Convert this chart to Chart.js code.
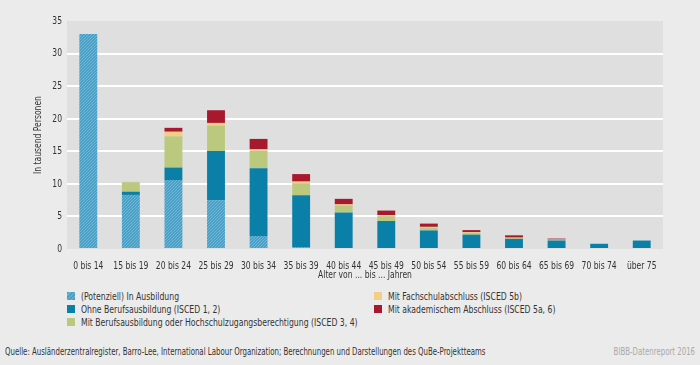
<!DOCTYPE html>
<html>
<head>
<meta charset="utf-8">
<script src="https://cdn.jsdelivr.net/npm/chart.js@4.4.1/dist/chart.umd.min.js"></script>
<style>
    body {
        margin: 0;
        width: 700px;
        height: 365px;
        overflow: hidden;
        background: #ebebeb;
        font-family: 'DejaVu Sans Condensed', sans-serif;
        color: #333;
        position: relative;
    }
    #wrap { position: absolute; left: 0; top: 0; width: 700px; height: 285px; }
    .legend-item {
        position: absolute;
        font-size: 11px;
        line-height: 13px;
        white-space: nowrap;
    }
    .legend-item .box {
        position: absolute;
        left: -14px;
        top: 2px;
        width: 8px;
        height: 8px;
    }
    /* the reference font is a narrow one, so squeeze DejaVu a bit */
    .narrow { display: inline-block; transform: scaleX(0.78); transform-origin: left center; }
    .footer { position: absolute; top: 344px; font-size: 10.5px; line-height: 14px; white-space: nowrap; }
    .footer span { display: inline-block; transform: scaleX(0.74); transform-origin: left center; }
    .footer.right span { transform-origin: right center; }
</style>
</head>
<body>
<div id="wrap"><canvas id="barChart" width="700" height="285"></canvas></div>
<div id="legend"></div>
<div class="footer" style="left:5px;"><span>Quelle: Ausländerzentralregister, Barro-Lee, International Labour Organization; Berechnungen und Darstellungen des QuBe-Projektteams</span></div>
<div class="footer right" style="right:5px; color:#a9a9a9;"><span>BIBB-Datenreport 2016</span></div>

<script>
// Altersgruppen
const categories = ['0 bis 14', '15 bis 19', '20 bis 24', '25 bis 29', '30 bis 34', '35 bis 39', '40 bis 44',
    '45 bis 49', '50 bis 54', '55 bis 59', '60 bis 64', '65 bis 69', '70 bis 74', 'über 75'];

// Werte in tausend Personen
const inAusbildung = [33, 8.3, 10.5, 7.5, 2.0, 0.3, 0, 0, 0, 0, 0, 0, 0, 0];
const ohneBerufsausbildung = [0, 0.5, 2.0, 7.55, 10.4, 7.95, 5.6, 4.3, 2.85, 2.2, 1.55, 1.3, 0.8, 1.3];
const mitBerufsausbildung = [0, 1.45, 4.8, 3.9, 2.7, 1.85, 1.1, 0.75, 0.45, 0.3, 0.15, 0.1, 0, 0];
const mitFachschulabschluss = [0, 0.1, 0.7, 0.4, 0.2, 0.25, 0.15, 0.15, 0.1, 0.1, 0.05, 0.05, 0, 0];
const mitAkademischemAbschluss = [0, 0, 0.6, 1.95, 1.6, 1.15, 0.85, 0.7, 0.5, 0.3, 0.35, 0.15, 0, 0];

const yTicks = [0, 5, 10, 15, 20, 25, 30, 35];

const FONT = "'DejaVu Sans Condensed', sans-serif";

// hatched fill for "(Potenziell) In Ausbildung"
function makeHatch() {
    const c = document.createElement('canvas');
    c.width = 3;
    c.height = 3;
    const g = c.getContext('2d');
    g.fillStyle = '#4aa1c8';
    g.fillRect(0, 0, 3, 3);
    g.fillStyle = '#72b5d5';
    g.fillRect(0, 2, 1, 1);
    g.fillRect(1, 1, 1, 1);
    g.fillRect(2, 0, 1, 1);
    return g.createPattern(c, 'repeat');
}

const ctx = document.getElementById('barChart').getContext('2d');
const hatch = makeHatch();

// squeeze canvas text horizontally, same as the html text
const origFillText = ctx.fillText.bind(ctx);
ctx.fillText = function(text, x, y, maxWidth) {
    const w = ctx.measureText(text).width * 0.77;
    origFillText(text, x, y, maxWidth !== undefined ? Math.min(maxWidth, w) : w);
};

const plotBackground = {
    id: 'plotBackground',
    beforeDraw(chart) {
        const a = chart.chartArea;
        chart.ctx.save();
        chart.ctx.fillStyle = '#dfdfdf';
        chart.ctx.fillRect(a.left, a.top, a.right - a.left, a.bottom - a.top);
        chart.ctx.restore();
    }
};

const datasets = [
    { label: '(Potenziell) In Ausbildung', data: inAusbildung, backgroundColor: hatch, legend: 'repeating-linear-gradient(135deg, #4aa1c8 0 2px, #72b5d5 2px 3px)', col: 0, row: 0 },
    { label: 'Ohne Berufsausbildung (ISCED 1, 2)', data: ohneBerufsausbildung, backgroundColor: '#0a7fa8', col: 0, row: 1 },
    { label: 'Mit Berufsausbildung oder Hochschulzugangsberechtigung (ISCED 3, 4)', data: mitBerufsausbildung, backgroundColor: '#bac97e', col: 0, row: 2 },
    { label: 'Mit Fachschulabschluss (ISCED 5b)', data: mitFachschulabschluss, backgroundColor: '#f3cf85', col: 1, row: 0 },
    { label: 'Mit akademischem Abschluss (ISCED 5a, 6)', data: mitAkademischemAbschluss, backgroundColor: '#a8192e', col: 1, row: 1 }
];

var barChart = new Chart(ctx, {
    type: 'bar',
    data: {
        labels: categories,
        datasets: datasets.map(d => ({
            label: d.label,
            data: d.data,
            backgroundColor: d.backgroundColor,
            borderWidth: 0,
            categoryPercentage: 1,
            barPercentage: 0.42
        }))
    },
    options: {
        responsive: false,
        animation: false,
        devicePixelRatio: 1,
        layout: { padding: { top: 21, right: 37, left: 0, bottom: 0 } },
        plugins: {
            legend: { display: false },
            tooltip: { enabled: false }
        },
        scales: {
            x: {
                stacked: true,
                grid: { display: false },
                border: { display: false },
                ticks: { color: '#333', font: { family: FONT, size: 11 }, padding: 3, maxRotation: 0, autoSkip: false },
                title: {
                    display: true,
                    text: 'Alter von ... bis ... Jahren',
                    color: '#333',
                    font: { family: FONT, size: 11 },
                    padding: { top: 0, bottom: 3 }
                },
                afterFit: s => { s.height = 36; }
            },
            y: {
                stacked: true,
                min: 0,
                max: 35,
                afterBuildTicks: s => { s.ticks = yTicks.map(v => ({ value: v })); },
                grid: {
                    color: c => (c.tick.value === 0 || c.tick.value === 35) ? 'rgba(0,0,0,0)' : '#ffffff',
                    lineWidth: 2,
                    drawTicks: false
                },
                border: { display: false },
                ticks: { color: '#333', font: { family: FONT, size: 11 }, padding: 5 },
                title: {
                    display: true,
                    text: 'In tausend Personen',
                    color: '#333',
                    font: { family: FONT, size: 11 },
                    padding: { top: 32, bottom: 0 }
                },
                afterFit: s => { s.width = 67; }
            }
        }
    },
    plugins: [plotBackground]
});

// Legend in two columns
const legend = document.getElementById('legend');
datasets.forEach(d => {
    const item = document.createElement('div');
    item.className = 'legend-item';
    item.style.left = (d.col === 0 ? 81 : 388) + 'px';
    item.style.top = (290 + d.row * 13) + 'px';
    const box = document.createElement('span');
    box.className = 'box';
    box.style.background = d.legend || d.backgroundColor;
    const txt = document.createElement('span');
    txt.className = 'narrow';
    txt.textContent = d.label;
    item.appendChild(box);
    item.appendChild(txt);
    legend.appendChild(item);
});
</script>
</body>
</html>
